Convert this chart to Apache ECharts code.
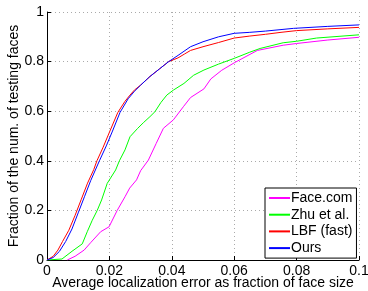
<!DOCTYPE html>
<html>
<head>
<meta charset="utf-8">
<script src="https://cdn.jsdelivr.net/npm/echarts@6/dist/echarts.min.js"></script>
<style>
  html, body { margin: 0; padding: 0; background: #fff; }
  #chartmain { width: 368px; height: 291px; }
</style>
</head>
<body>
<div id="chartmain"></div>
<script>
// series names (legend order)
var seriesNames = ['Face.com', 'Zhu et al.', 'LBF (fast)', 'Ours'];
var seriesColors = ['#ff00ff', '#00ff00', '#ff0000', '#0000ff'];

// [error, fraction] pairs
var faceCom = [[0.0065,0],[0.009,0.015],[0.0119,0.04],[0.014,0.07],[0.0172,0.114],[0.0199,0.134],[0.0225,0.2],[0.025,0.255],[0.0265,0.29],[0.0287,0.323],[0.030,0.36],[0.0325,0.403],[0.035,0.47],[0.0373,0.531],[0.0405,0.565],[0.0437,0.618],[0.046,0.655],[0.0503,0.69],[0.0525,0.73],[0.056,0.765],[0.06,0.795],[0.0674,0.845],[0.0757,0.866],[0.08,0.873],[0.09,0.887],[0.1,0.898]];
var zhu = [[0,0],[0.0048,0.004],[0.008,0.035],[0.0113,0.065],[0.0129,0.114],[0.0145,0.16],[0.0161,0.2],[0.0175,0.242],[0.0193,0.309],[0.022,0.363],[0.0232,0.4],[0.025,0.444],[0.0266,0.497],[0.029,0.53],[0.031,0.555],[0.033,0.578],[0.0346,0.598],[0.0365,0.635],[0.0384,0.665],[0.0405,0.685],[0.0439,0.712],[0.047,0.745],[0.0503,0.766],[0.055,0.79],[0.06,0.813],[0.065,0.838],[0.0683,0.853],[0.0757,0.876],[0.08,0.882],[0.0864,0.895],[0.1,0.908]];
var lbfFast = [[0,0],[0.002,0.015],[0.0035,0.04],[0.005,0.075],[0.007,0.12],[0.009,0.18],[0.011,0.245],[0.013,0.31],[0.015,0.365],[0.016,0.4],[0.018,0.455],[0.020,0.515],[0.0227,0.595],[0.025,0.64],[0.0266,0.665],[0.028,0.685],[0.030,0.705],[0.033,0.74],[0.036,0.77],[0.039,0.8],[0.042,0.815],[0.044,0.83],[0.046,0.845],[0.05,0.86],[0.055,0.877],[0.06,0.895],[0.065,0.903],[0.07,0.91],[0.075,0.918],[0.08,0.925],[0.09,0.932],[0.1,0.938]];
var ours = [[0,0],[0.002,0.01],[0.004,0.035],[0.006,0.075],[0.008,0.125],[0.010,0.19],[0.012,0.255],[0.014,0.32],[0.0168,0.4],[0.019,0.46],[0.021,0.52],[0.0234,0.595],[0.026,0.65],[0.028,0.68],[0.030,0.705],[0.033,0.74],[0.036,0.77],[0.039,0.8],[0.042,0.825],[0.046,0.86],[0.05,0.88],[0.055,0.9],[0.06,0.914],[0.065,0.918],[0.07,0.923],[0.079,0.934],[0.09,0.942],[0.1,0.948]];
var seriesData = [faceCom, zhu, lbfFast, ours];

// tick labels
var xTicks = ['0', '0.02', '0.04', '0.06', '0.08', '0.1'];
var yTicks = ['0', '0.2', '0.4', '0.6', '0.8', '1'];

var font = 'Liberation Sans, Arial, Helvetica, sans-serif';
var gridLine = {show: true, lineStyle: {color: '#aaa', type: [1, 3], width: 1}};

var series = [];
for (var i = 0; i < seriesNames.length; i++) {
    series.push({
        name: seriesNames[i],
        type: 'line',
        showSymbol: false,
        symbol: 'none',
        data: seriesData[i],
        lineStyle: {color: seriesColors[i], width: 1},
        itemStyle: {color: seriesColors[i]}
    });
}

var option = {
    animation: false,
    backgroundColor: '#fff',
    grid: {left: 47, right: 9, top: 12, bottom: 31, outerBoundsMode: 'none', containLabel: false},
    legend: {
        orient: 'vertical',
        left: 265,
        top: 188,
        icon: 'rect',
        itemWidth: 21,
        itemHeight: 2,
        itemGap: 0.7,
        padding: [2, 4, 2, 4],
        backgroundColor: '#fff',
        borderColor: '#000',
        borderWidth: 1,
        textStyle: {fontFamily: font, fontSize: 14, color: '#000', lineHeight: 16, padding: [0, 0, 0, -4]},
        data: seriesNames
    },
    xAxis: {
        type: 'value',
        min: 0,
        max: 0.1,
        interval: 0.02,
        name: 'Average localization error as fraction of face size',
        nameLocation: 'middle',
        nameGap: 16,
        nameMoveOverlap: false,
        nameTextStyle: {fontFamily: font, fontSize: 14, color: '#000'},
        axisLine: {show: true, onZero: false, lineStyle: {color: '#000', width: 1}},
        axisTick: {show: true, inside: true, length: 4, lineStyle: {color: '#000'}},
        axisLabel: {
            fontFamily: font, fontSize: 14, color: '#000', margin: 4,
            formatter: function (v) { return xTicks[Math.round(v / 0.02)]; }
        },
        splitLine: gridLine
    },
    yAxis: {
        type: 'value',
        min: 0,
        max: 1,
        interval: 0.2,
        name: 'Fraction of the num. of testing faces',
        nameLocation: 'middle',
        nameGap: 26,
        nameMoveOverlap: false,
        nameTextStyle: {fontFamily: font, fontSize: 14, color: '#000'},
        axisLine: {show: true, lineStyle: {color: '#000', width: 1}},
        axisTick: {show: true, inside: true, length: 4, lineStyle: {color: '#000'}},
        axisLabel: {
            fontFamily: font, fontSize: 14, color: '#000', margin: 3,
            formatter: function (v) { return yTicks[Math.round(v / 0.2)]; }
        },
        splitLine: gridLine
    },
    series: series
};

var myChart = echarts.init(document.getElementById('chartmain'), null, {renderer: 'canvas'});
myChart.setOption(option);
</script>
</body>
</html>
